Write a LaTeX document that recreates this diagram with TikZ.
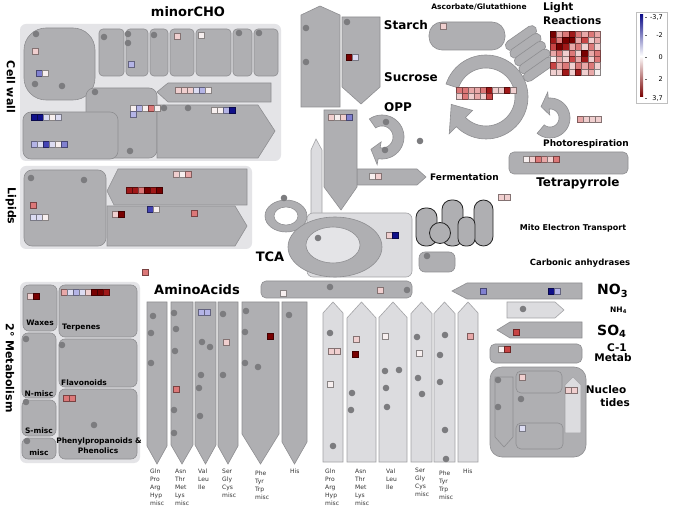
\documentclass[tikz,border=0pt]{standalone}
\usepackage{fontspec}
\setmainfont{DejaVu Sans}
\definecolor{lpan}{HTML}{E4E4E7}
\definecolor{gfill}{HTML}{AFAFB2}
\definecolor{gline}{HTML}{8E8E91}
\definecolor{lfill}{HTML}{DCDCDF}
\definecolor{lline}{HTML}{A3A3A6}
\definecolor{dotc}{HTML}{7C7C7F}
\definecolor{w}{HTML}{F7EFEF}
\definecolor{r1}{HTML}{F0CFCF}
\definecolor{r2}{HTML}{E8A8A8}
\definecolor{r3}{HTML}{DC7878}
\definecolor{r4}{HTML}{C84444}
\definecolor{r5}{HTML}{A01818}
\definecolor{r6}{HTML}{780000}
\definecolor{b1}{HTML}{DCDCF2}
\definecolor{b2}{HTML}{B4B4E6}
\definecolor{b3}{HTML}{8080D0}
\definecolor{b4}{HTML}{4444B4}
\definecolor{b5}{HTML}{10108A}
\newcommand\myfs[1]{\fontsize{#1}{#1}\selectfont}
\newcommand\sq[3]{\draw[line width=0.5pt,fill=#3,draw=#3!55!black] (#1-3,#2-3) rectangle (#1+3,#2+3);}
\newcommand\sqrow[3]{\foreach \c [count=\i from 0] in {#3} {\sq{#1+6*\i}{#2}{\c}}}
\newcommand\dt[2]{\fill[dotc] (#1,#2) circle (3.3);}
\begin{document}
\begin{tikzpicture}[x=1pt,y=-1pt,
  lp/.style={fill=lpan, rounded corners=6pt},
  gb/.style={fill=gfill, draw=gline, line width=0.6pt},
  lb/.style={fill=lfill, draw=lline, line width=0.6pt},
  mito/.style={fill=gfill, draw=black!85, line width=0.8pt, rounded corners=9.5pt},
  ttl/.style={font=\bfseries\myfs{12}, inner sep=0pt},
  sml/.style={font=\bfseries\myfs{7.5}, inner sep=0pt},
  aal/.style={font=\fontsize{6}{8}\selectfont, align=left, inner sep=0pt, anchor=north west, text=black!80},
  leg/.style={font=\myfs{6.5}, inner sep=0pt, anchor=east}]
\useasboundingbox (0,0) rectangle (685,510);
\fill[white] (0,0) rectangle (685,510);

% ---------------- Cell wall / minorCHO
\fill[lp] (20,24) rectangle (281,161);
\draw[gb, rounded corners=22pt] (24,28) rectangle (95,100);
\foreach \a/\b in {99/124,126/148,150/168,170/194,196/231,233/252,254/278}
  {\draw[gb, rounded corners=4pt] (\a,29) rectangle (\b,76);}
\draw[gb] (157,92) -- (168,83) -- (271,83) -- (271,102) -- (168,102) -- cycle;
\draw[gb, rounded corners=8pt] (86,88) rectangle (157,158);
\draw[gb] (157,105) -- (258,105) -- (275,131) -- (258,158) -- (157,158) -- cycle;
\draw[gb, rounded corners=8pt] (23,112) rectangle (118,159);
\foreach \p in {(36,34),(35,84),(62,86),(104,37),(128,34),(128,43),(154,35),(239,33),(259,33),(95,92),(130,151),(164,108),(188,108)}
  {\fill[dotc] \p circle (3.3);}
\sq{35}{51}{r1}
\sqrow{39}{73}{b3,w}
\sq{177}{36}{r1} \sq{201}{35}{w} \sq{131}{64}{b2}
\sqrow{178}{90}{r1,r1,r1,b1,b2,w}
\sqrow{133}{108}{w,b2,w,r3,w} \sq{133}{114}{b2}
\sqrow{214}{110}{w,w,b2,b5}
\sqrow{34}{117}{b5,b5,b1,w,b1}
\sqrow{34}{144}{b2,b1,b4,b1,w,b3}
\node[ttl, font=\bfseries\myfs{13}] (minorcho) at (188,12) {minorCHO};
\node[ttl, font=\bfseries\myfs{11}, rotate=-90] (cellwall) at (11,87) {Cell wall};

% ---------------- Lipids
\fill[lp] (20,166) rectangle (252,249);
\draw[gb, rounded corners=8pt] (24,170) rectangle (106,246);
\draw[gb] (107,191) -- (118,169) -- (247,169) -- (247,205) -- (114,205) -- cycle;
\draw[gb] (107,206) -- (235,206) -- (247,226) -- (235,246) -- (107,246) -- cycle;
\dt{31}{178} \dt{84}{180}
\sq{33}{205}{r3}
\sqrow{33}{217}{b1,b1,w}
\sqrow{176}{174}{r1,w,r2}
\sqrow{129}{190}{r5,r5,r3,r6,r5,r6}
\sqrow{115}{214}{r1,r6}
\sqrow{150}{209}{b4,w}
\sq{194}{213}{r3}
\node[ttl, font=\bfseries\myfs{11}, rotate=-90] (lipids) at (11,206) {Lipids};
\sq{145}{272}{r3}

% ---------------- 2nd metabolism
\fill[lp] (20,282) rectangle (140,463);
\draw[gb, rounded corners=6pt] (23,285) rectangle (57,331);
\draw[gb, rounded corners=6pt] (59,285) rectangle (137,337);
\draw[gb, rounded corners=6pt] (22,333) rectangle (56,398);
\draw[gb, rounded corners=6pt] (59,339) rectangle (137,387);
\draw[gb, rounded corners=6pt] (22,400) rectangle (56,436);
\draw[gb, rounded corners=6pt] (22,438) rectangle (56,459);
\draw[gb, rounded corners=6pt] (59,389) rectangle (137,459);
\dt{26}{339} \dt{26}{402} \dt{27}{441} \dt{62}{345} \dt{94}{425}
\sqrow{30}{296}{r1,r6}
\sqrow{64}{292}{r2,b1,b2,b1,r1,r6,r6,r5}
\sqrow{66}{398}{r3,r3}
\node[sml] (waxes) at (40,323) {Waxes};
\node[sml, anchor=west] (terp) at (62,328) {Terpenes};
\node[sml] (nmisc) at (39,394) {N-misc};
\node[sml, anchor=west] (flav) at (61,383) {Flavonoids};
\node[sml] (smisc) at (39,431) {S-misc};
\node[sml] (misc) at (39,453) {misc};
\node[sml] (phen1) at (99,441) {Phenylpropanoids \&};
\node[sml] (phen2) at (98,451) {Phenolics};
\node[ttl, font=\bfseries\myfs{11}, rotate=-90] (secmet) at (10,368) {2° Metabolism};

% ---------------- Amino acids (left)
\node[ttl, font=\bfseries\myfs{13}] (amino) at (197,290) {AminoAcids};
\draw[gb, rounded corners=5pt] (261,281) rectangle (412,298);
\dt{330}{287} \dt{407}{290}
\sq{283}{293}{w} \sq{380}{290}{r1}
\foreach \l/\r/\d in {147/167/18,171/193/19,195/216/19,218/238/18,242/279/30,282/307/22}
  {\draw[gb] (\l,302) -- (\r,302) -- (\r,464-\d) -- ({(\l+\r)/2},464) -- (\l,464-\d) -- cycle;}
\foreach \p in {(153,316),(151,333),(151,363),(174,313),(176,329),(175,351),(174,410),(174,433),(202,342),(210,347),(201,375),(199,388),(200,416),(223,314),(223,375),(246,311),(245,332),(245,363),(258,367),(289,315)}
  {\fill[dotc] \p circle (3.3);}
\sq{176}{389}{r3}
\sqrow{201}{312}{b2,b2}
\sq{226}{342}{r1}
\sq{270}{336}{r6}
\node[aal] (la1) at (150,469) {Gln\\Pro\\Arg\\Hyp\\misc};
\node[aal] (la2) at (175,469) {Asn\\Thr\\Met\\Lys\\misc};
\node[aal] (la3) at (198,469) {Val\\Leu\\Ile};
\node[aal] (la4) at (222,469) {Ser\\Gly\\Cys\\misc};
\node[aal] (la5) at (255,471) {Phe\\Tyr\\Trp\\misc};
\node[aal] (la6) at (290,469) {His};

% ---------------- Amino acids (right)
\foreach \l/\r in {323/343,347/376,379/407,411/432,434/455,458/478}
  {\draw[lb] (\l,462) -- (\l,{302+0.55*(\r-\l)}) -- ({(\l+\r)/2},302) -- (\r,{302+0.55*(\r-\l)}) -- (\r,462) -- cycle;}
\foreach \p in {(330,333),(333,446),(352,393),(351,410),(385,371),(399,370),(386,388),(387,407),(417,337),(418,378),(422,394),(445,335),(440,355),(440,382),(445,430),(446,459)}
  {\fill[dotc] \p circle (3.3);}
\sqrow{331}{351}{r1,r1}
\sq{330}{384}{w}
\sq{356}{339}{r1}
\sq{355}{354}{r6}
\sq{385}{336}{w}
\sq{419}{353}{w}
\sq{470}{336}{r2}
\node[aal] (lb1) at (325,469) {Gln\\Pro\\Arg\\Hyp\\misc};
\node[aal] (lb2) at (355,469) {Asn\\Thr\\Met\\Lys\\misc};
\node[aal] (lb3) at (386,469) {Val\\Leu\\Ile};
\node[aal] (lb4) at (415,468) {Ser\\Gly\\Cys\\misc};
\node[aal] (lb5) at (439,471) {Phe\\Tyr\\Trp\\misc};
\node[aal] (lb6) at (463,469) {His};

% ---------------- N, S, C-1, nucleotides
\draw[gb] (452,291) -- (467,283) -- (582,283) -- (582,299) -- (467,299) -- cycle;
\sq{483}{291}{b3} \sqrow{551}{291}{b5,b2}
\draw[lb] (507,302) -- (555,302) -- (564,310) -- (555,318) -- (507,318) -- cycle;
\dt{523}{309}
\draw[gb] (497,330) -- (510,322) -- (582,322) -- (582,338) -- (510,338) -- cycle;
\sq{516}{332}{r4}
\draw[gb, rounded corners=5pt] (490,344) rectangle (582,363);
\sqrow{501}{349}{w,r4}
\draw[gb, rounded corners=12pt] (490,367) rectangle (586,457);
\draw[gb] (495,377) -- (513,377) -- (513,437) -- (504,447) -- (495,437) -- cycle;
\draw[gb, rounded corners=5pt] (516,371) rectangle (562,393);
\draw[gb, rounded corners=5pt] (516,423) rectangle (563,449);
\draw[lb] (565,385) -- (573,377) -- (581,385) -- (581,433) -- (565,433) -- cycle;
\dt{498}{380} \dt{498}{407} \dt{521}{399}
\sq{522}{377}{r1} \sq{522}{428}{b1} \sqrow{568}{390}{r1,r1}
\node[ttl, font=\bfseries\myfs{14}, anchor=west] (no3) at (597,291) {NO\textsubscript{3}};
\node[ttl, font=\bfseries\myfs{7.5}, anchor=west] (nh4) at (610,310) {NH\textsubscript{4}};
\node[ttl, font=\bfseries\myfs{14}, anchor=west] (so4) at (597,331) {SO\textsubscript{4}};
\node[ttl, font=\bfseries\myfs{10.5}] (c1) at (617,348) {C-1};
\node[ttl, font=\bfseries\myfs{10.5}] (metab) at (613,358) {Metab};
\node[ttl, font=\bfseries\myfs{10.5}] (nuc1) at (606,390) {Nucleo};
\node[ttl, font=\bfseries\myfs{10.5}] (nuc2) at (615,403) {tides};

% ---------------- central carbon
\draw[gb] (301,15) -- (320,6) -- (340,15) -- (340,107) -- (301,107) -- cycle;
\draw[gb] (342,17) -- (380,17) -- (380,87) -- (361,104) -- (342,87) -- cycle;
\dt{306}{28} \dt{306}{62} \dt{347}{22}
\sqrow{349}{57}{r6,b1}
\node[ttl] (starch) at (406,25) {Starch};
\node[ttl] (sucrose) at (411,77) {Sucrose};
\node[ttl] (opp) at (398,107) {OPP};
\draw[lb] (311,150) -- (316,139) -- (322,150) -- (322,216) -- (311,216) -- cycle;
\draw[gb] (357,169) -- (417,169) -- (426,177) -- (417,185) -- (357,185) -- cycle;
\draw[gb] (324,110) -- (357,110) -- (357,187) -- (341,210) -- (324,187) -- cycle;
\sqrow{331}{117}{r1,w,r1,b3}
\sqrow{372}{176}{w,r1}
\node[ttl, font=\bfseries\myfs{9}, anchor=west] (ferm) at (430,177) {Fermentation};
% OPP ring arrow
\begin{scope}[shift={(382,137)}]
\draw[gb] plot[domain=235:460, samples=40] (\x:22) -- (460:28) -- (492:16.5) -- (460:5) -- plot[domain=460:235, samples=40] (\x:11) -- cycle;
\end{scope}
\dt{386}{122} \dt{385}{150} \dt{420}{141}
% sucrose ring arrow
\begin{scope}[shift={(486,97)}]
\draw[gb] plot[domain=198:495, samples=60] (\x:42) -- (495:52) -- (528:35.5) -- (495:19) -- plot[domain=495:198, samples=60] (\x:29) -- cycle;
\end{scope}
\sqrow{459}{90}{r3,r3,r2,r2,r3,r5,r1,r1,r5,r1}
\sqrow{459}{96}{r1,r3,r1,r2,r1,r4}
% ascorbate
\draw[gb, rounded corners=13pt] (429,22) rectangle (505,50);
\sq{443}{26}{r1}
\node[ttl, font=\bfseries\myfs{7.5}] (asc) at (479,7) {Ascorbate/Glutathione};
% light reactions stack
\foreach \cx/\cy in {521/38,525.5/45.8,530/53.6,534.5/61.4,539/69.2}
  {\draw[gb, rounded corners=5pt, rotate around={35:(\cx,\cy)}] (\cx-18,\cy-5) rectangle (\cx+18,\cy+5);}
\node[ttl, font=\bfseries\myfs{10.5}, anchor=west] (light) at (543,8) {Light};
\node[ttl, font=\bfseries\myfs{10.5}, anchor=west] (react) at (543,21) {Reactions};
\foreach \row [count=\j from 0] in {{r6,r2,r3,r5,r3,r2,r3,r2},{r5,r3,r6,r6,r2,r4,r1,r2},{r4,r6,r5,r2,r3,r1,r3,r1},{r2,r3,r1,r3,r1,r6,r2,r3},{w,r2,r1,r4,r2,r5,r1,r3},{r4,r2,r3,r1,r3,r2,r3,r1},{r1,r1,r5,r1,r5,r1,r2,w}}
  {\foreach \c [count=\i from 0] in \row
    {\draw[line width=0.5pt, fill=\c, draw=\c!55!black] (550+6.3*\i,31+6.3*\j) rectangle ++(6.3,6.3);}}
% legend
\draw[black!25, line width=0.5pt] (636,12) rectangle (667,103);
\shade[top color=b5, bottom color=r6, middle color=white] (640,15) rectangle (643,97);
\foreach \yy in {17,35,57,79,98}
  {\draw[black!60, line width=0.4pt] (645,\yy) -- (647,\yy);}
\node[leg] (l1) at (663,17) {-3,7};
\node[leg] (l2) at (663,35) {-2};
\node[leg] (l3) at (663,57) {0};
\node[leg] (l4) at (663,79) {2};
\node[leg] (l5) at (663,98) {3,7};
% photorespiration ring
\begin{scope}[shift={(550,118)}]
\draw[gb] plot[domain=130:-95, samples=40] (\x:20) -- (-95:26) -- (-128:14.5) -- (-95:3) -- plot[domain=-95:130, samples=40] (\x:9) -- cycle;
\end{scope}
\sqrow{580}{119}{r2,r1,r1,r1}
\node[ttl, font=\bfseries\myfs{9}] (photo) at (586,144) {Photorespiration};
\draw[gb, rounded corners=5pt] (509,152) rectangle (628,174);
\sqrow{526}{159}{w,r1,r3,r2,r1,r3}
\node[ttl] (tetra) at (578,183) {Tetrapyrrole};
\sqrow{501}{197}{r1,r1}
\node[ttl, font=\bfseries\myfs{8}] (mito) at (573,228) {Mito Electron Transport};
\node[ttl, font=\bfseries\myfs{8.5}] (carb) at (580,263) {Carbonic anhydrases};

% ---------------- TCA
\fill[gfill] (286,216) ellipse [x radius=21, y radius=16];
\draw[gline, line width=0.6pt] (286,216) ellipse [x radius=21, y radius=16];
\draw[gline, line width=0.6pt, fill=white] (286,216) ellipse [x radius=12, y radius=9];
\dt{284}{198}
\draw[lb, rounded corners=6pt] (307,213) rectangle (412,277);
\draw[gb] (335,247) ellipse [x radius=47, y radius=30];
\draw[gline, line width=0.6pt, fill=lpan] (333,245) ellipse [x radius=27, y radius=18];
\dt{318}{238}
\sqrow{389}{235}{r1,b5}
\node[ttl, font=\bfseries\myfs{13}] (tca) at (270,257) {TCA};

% ---------------- mito electron transport
\draw[mito] (416,208) rectangle (437,246);
\draw[mito] (442,200) rectangle (463,246);
\draw[mito] (474,200) rectangle (493,246);
\draw[mito, rounded corners=7.5pt] (458,217) rectangle (475,246);
\draw[fill=gfill, draw=black!85, line width=0.8pt] (440,233) circle (10.5);
\draw[gb, rounded corners=6pt] (419,252) rectangle (455,272);
\dt{427}{256}
\end{tikzpicture}
\end{document}
